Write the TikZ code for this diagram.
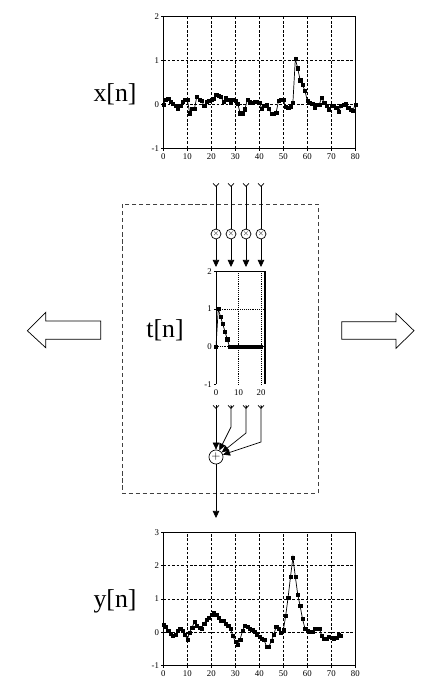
\documentclass[tikz,border=0pt]{standalone}
\usepackage{fontspec}
\setmainfont{Liberation Serif}
\usetikzlibrary{arrows.meta, positioning, plotmarks}

\tikzstyle{frame} = [line width=0.6pt, draw=black]
\tikzstyle{gridline} = [line width=0.45pt, dash pattern=on 2.3pt off 1.5pt]
\tikzstyle{dotgrid} = [line width=0.45pt, dash pattern=on 0.5pt off 1.1pt]
\tikzstyle{dataline} = [line width=0.6pt]
\tikzstyle{datamark} = [mark=square*, mark size=1.35pt, mark options={solid, fill=black, line width=0.3pt}]
\tikzstyle{ticklabel} = [font=\fontsize{7.5}{9}\selectfont, inner sep=1pt]
\tikzstyle{biglabel} = [font=\fontsize{22}{26}\selectfont, inner sep=0pt, anchor=base]
\tikzstyle{mult} = [circle, draw=black, line width=0.6pt, minimum size=8.5pt, inner sep=0pt, font=\fontsize{6}{6}\selectfont]
\tikzstyle{adder} = [circle, draw=black, line width=0.6pt, minimum size=12pt, inner sep=0pt, font=\fontsize{10}{10}\selectfont]
\tikzstyle{feed} = [line width=0.6pt, {Straight Barb[reversed, length=2.5pt, width=5pt]}-]
\tikzstyle{arrow} = [line width=0.6pt, -{Triangle[length=6pt, width=5.5pt]}]
\tikzstyle{bigarrow} = [line width=0.6pt, draw=black, fill=white, line join=miter]

\begin{document}
\begin{tikzpicture}[x=0.03cm, y=-0.03cm]
\useasboundingbox (0,0) rectangle (448,694);

% input signal
\begin{scope}[shift={(163.3,104.3)}, x=0.072cm, y=1.32cm]
\foreach \gx in {10,20,...,70} \draw[gridline] (\gx,-1) -- (\gx,2);
\foreach \gy in {0,1} \draw[gridline] (0,\gy) -- (80,\gy);
\draw[frame] (0,-1) rectangle (80,2);
\foreach \gy in {-1,0,1,2} {
  \draw[frame] (0,\gy) -- ++(-2pt,0);
  \node[ticklabel, anchor=east] (xy\gy) at ([xshift=-2.5pt]0,\gy) {\gy};
}
\foreach \gx in {0,10,...,80} {
  \draw[frame] (\gx,-1) -- ++(0,-2pt);
  \node[ticklabel, anchor=north] (xx\gx) at ([yshift=-3pt]\gx,-1) {\gx};
}
\draw[dataline] plot[datamark] coordinates {(0,0)(1,0.1)(2,0.12)(3,0.06)(4,0.02)(5,-0.04)(6,-0.1)(7,-0.04)(8,0.06)(9,0.1)(10,0.11)(11,-0.2)(12,-0.09)(13,-0.09)(14,0.18)(15,0.1)(16,0.08)(17,-0.04)(18,0.06)(19,0.08)(20,0.1)(21,0.12)(22,0.21)(23,0.19)(24,0.18)(25,0.06)(26,0.16)(27,0.11)(28,0.04)(29,0.11)(30,0.08)(31,0.02)(32,-0.2)(33,-0.2)(34,-0.11)(35,0.1)(36,0.06)(37,0.04)(38,0.06)(39,0.06)(40,0.04)(41,-0.09)(42,-0.04)(43,0)(44,-0.09)(45,-0.22)(46,-0.22)(47,-0.19)(48,0.08)(49,0.1)(50,0.1)(51,-0.05)(52,-0.07)(53,-0.05)(54,0.04)(55,1.03)(56,0.82)(57,0.55)(58,0.44)(59,0.31)(60,0.08)(61,0.04)(62,0.02)(63,-0.07)(64,0)(65,0)(66,0.15)(67,0.04)(68,-0.04)(69,-0.11)(70,-0.04)(71,-0.04)(72,-0.07)(73,-0.17)(74,-0.04)(75,0)(76,0.02)(77,-0.07)(78,-0.13)(79,-0.14)(80,0)};
\end{scope}
\node[biglabel] (xlabel) at (115,101) {x[n]};

% filter box
\draw[line width=0.6pt, black!75, dash pattern=on 3.5pt off 2.5pt] (122.3,204.3) rectangle (318.3,493.3);

\coordinate (in1) at (216,183);
\coordinate (in2) at (231,183);
\coordinate (in3) at (246,183);
\coordinate (in4) at (261,183);
\node[mult] (mult1) at (216,234) {$\times$};
\node[mult] (mult2) at (231,234) {$\times$};
\node[mult] (mult3) at (246,234) {$\times$};
\node[mult] (mult4) at (261,234) {$\times$};
\coordinate (tap1) at (216,267);
\coordinate (tap2) at (231,267);
\coordinate (tap3) at (246,267);
\coordinate (tap4) at (261,267);
\foreach \k in {1,2,3,4} {
  \draw[feed] (in\k) -- (mult\k);
  \draw[arrow] (mult\k) -- (tap\k);
}

% impulse response
\begin{scope}[shift={(216,346.7)}, x=0.0675cm, y=1.131cm]
\foreach \gx in {10,20} \draw[dotgrid] (\gx,-1) -- (\gx,2);
\foreach \gy in {0,1} \draw[dotgrid] (0,\gy) -- (21.8,\gy);
\draw[frame] (0,-1) -- (0,2) -- (21.8,2);
\draw[line width=1.2pt] (21.8,2) -- (21.8,-1);
\foreach \gy in {-1,0,1,2} {
  \draw[frame] (0,\gy) -- ++(-2pt,0);
  \node[ticklabel, anchor=east] (ty\gy) at ([xshift=-2.5pt]0,\gy) {\gy};
}
\foreach \gx in {0,10,20} {
  \node[ticklabel, anchor=north] (tx\gx) at ([yshift=-3pt]\gx,-1) {\gx};
}
\draw[dataline] plot[datamark] coordinates {(0,0)(1,1)(2,0.8)(3,0.6)(4,0.4)(5,0.2)(6,0)(7,0)(8,0)(9,0)(10,0)(11,0)(12,0)(13,0)(14,0)(15,0)(16,0)(17,0)(18,0)(19,0)(20,0)};
\draw[line width=1.8pt] (6,0) -- (20,0);
\end{scope}
\node[biglabel] (tlabel) at (165,337.3) {t[n]};

% summation
\coordinate (out1) at (216,405);
\coordinate (out2) at (231,405);
\coordinate (out3) at (246,405);
\coordinate (out4) at (261,405);
\coordinate (bend2) at (231,427);
\coordinate (bend3) at (246,433);
\coordinate (bend4) at (261,442);
\node[adder] (sum) at (216,457) {$+$};
\coordinate (yout) at (216,518);
\draw[feed] (out1) -- ++(0,1);
\draw[arrow] (out1) -- (sum);
\foreach \k in {2,3,4} {
  \draw[feed] (out\k) -- ++(0,1);
  \draw[arrow] (out\k) -- (bend\k) -- (sum);
}
\draw[arrow] (sum) -- (yout);

% side arrows
\draw[bigarrow] (27.3,330.7) -- (45.7,312.3) -- (45.7,321) -- (100.7,321) -- (100.7,339.3) -- (45.7,339.3) -- (45.7,347.7) -- cycle;
\draw[bigarrow] (414,330.7) -- (396,313.3) -- (396,321.7) -- (341.7,321.7) -- (341.7,339.3) -- (396,339.3) -- (396,348.3) -- cycle;

% output signal
\begin{scope}[shift={(163.3,632.3)}, x=0.072cm, y=1cm]
\foreach \gx in {10,20,...,70} \draw[gridline] (\gx,-1) -- (\gx,3);
\foreach \gy in {0,1,2} \draw[gridline] (0,\gy) -- (80,\gy);
\draw[frame] (0,-1) rectangle (80,3);
\foreach \gy in {-1,0,1,2,3} {
  \draw[frame] (0,\gy) -- ++(-2pt,0);
  \node[ticklabel, anchor=east] (yy\gy) at ([xshift=-2.5pt]0,\gy) {\gy};
}
\foreach \gx in {0,10,...,80} {
  \draw[frame] (\gx,-1) -- ++(0,-2pt);
  \node[ticklabel, anchor=north] (yx\gx) at ([yshift=-3pt]\gx,-1) {\gx};
}
\draw[dataline] plot[datamark] coordinates {(0,0.24)(1,0.17)(2,0.04)(3,-0.05)(4,-0.11)(5,-0.08)(6,0.04)(7,0.1)(8,0.04)(9,-0.08)(10,-0.21)(11,0)(12,0.15)(13,0.32)(14,0.19)(15,0.15)(16,0.12)(17,0.27)(18,0.37)(19,0.45)(20,0.52)(21,0.6)(22,0.52)(23,0.44)(24,0.35)(25,0.35)(26,0.27)(27,0.19)(28,0.1)(29,-0.11)(30,-0.28)(31,-0.38)(32,-0.21)(33,0.04)(34,0.2)(35,0.17)(36,0.1)(37,0.07)(38,0.02)(39,-0.06)(40,-0.13)(41,-0.18)(42,-0.23)(43,-0.43)(44,-0.43)(45,-0.26)(46,-0.08)(47,0.17)(48,0.12)(49,0)(50,0.07)(51,0.5)(52,1.05)(53,1.67)(54,2.25)(55,1.67)(56,1.14)(57,0.79)(58,0.4)(59,0.12)(60,0.04)(61,0.02)(62,0.02)(63,0.12)(64,0.12)(65,0.12)(66,-0.1)(67,-0.18)(68,-0.2)(69,-0.13)(70,-0.15)(71,-0.2)(72,-0.16)(73,-0.08)(74,-0.11)};
\end{scope}
\node[biglabel] (ylabel) at (115,607) {y[n]};

\end{tikzpicture}
\end{document}
